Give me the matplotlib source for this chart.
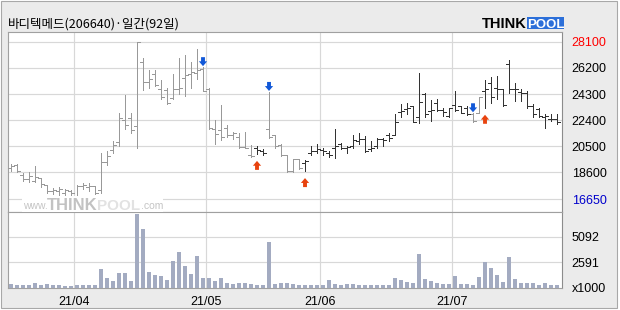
import matplotlib
matplotlib.use('Agg')
import matplotlib.pyplot as plt
import numpy as np
import pandas as pd
from matplotlib.patches import Rectangle
from matplotlib.transforms import offset_copy

# ---------------- data ----------------
title = '바디텍메드(206640)·일간(92일)'
holidays = ['2021-05-05', '2021-05-19']
dates = pd.bdate_range('2021-03-17', '2021-07-26')
dates = dates[~dates.isin(pd.to_datetime(holidays))]

opens = [18900, 19150, 18400, 18150, 18000, 18200, 17700, 17250, 17250, 17100,
         17250, 16800, 17600, 17550, 17600, 17350, 19350, 20250, 20800, 22400,
         22550, 21950, 26600, 25150, 25750, 24650, 24600, 24000, 24650, 25450,
         25750, 25850, 26100, 24650, 21750, 21700, 21850, 21300, 21200, 20450,
         19850, 20350, 20150, 21750, 21300, 20600, 19850, 18700, 19550, 19300,
         20050, 20150, 20250, 20050, 20400, 20650, 20350, 20500, 20900, 21000,
         20300, 20500, 21000, 21300, 21350, 23000, 23200, 23450, 22600, 24300,
         23050, 23650, 23150, 22700, 23500, 23400, 23300, 22850, 22900, 24500,
         25100, 24750, 24650, 26450, 24700, 24450, 24350, 23400, 23200, 22650,
         22500, 22450]
highs = [19200, 19200, 18550, 18650, 19050, 18200, 17700, 17450, 17550, 17400,
         17350, 17700, 17850, 17850, 17600, 20000, 20150, 20900, 22900, 24250,
         22900, 28100, 26900, 26050, 26050, 25300, 24750, 25750, 26900, 27150,
         26600, 27550, 26250, 24750, 22400, 23500, 22050, 21550, 21450, 21550,
         20600, 20500, 20300, 24450, 21300, 20650, 19850, 19550, 19600, 19500,
         20500, 20650, 20400, 20150, 21750, 20750, 20500, 21350, 21450, 21250,
         20900, 21100, 21100, 21500, 22850, 23550, 23650, 23450, 25800, 24400,
         23850, 23950, 23300, 23300, 24500, 23450, 23400, 22900, 24050, 25350,
         25500, 25600, 24700, 26800, 25100, 24650, 24500, 23550, 23250, 22850,
         22850, 22850]
lows = [18700, 18650, 18000, 17900, 17900, 17550, 17100, 17050, 16800, 16950,
        16750, 16650, 17400, 17250, 17050, 17100, 19150, 20000, 20500, 21750,
        21450, 20350, 24600, 24750, 24900, 23950, 23550, 23950, 24300, 24150,
        24750, 25400, 24500, 21750, 20700, 20950, 21200, 21000, 20350, 20400,
        19750, 19950, 19850, 21100, 20400, 19800, 18650, 18600, 18850, 18700,
        19850, 20000, 19900, 19750, 19650, 20300, 20050, 20350, 20650, 20100,
        20150, 20400, 20500, 20900, 21300, 22600, 22850, 22250, 22200, 22600,
        22350, 23050, 22700, 22650, 23050, 22900, 22750, 22250, 22900, 23300,
        23650, 23950, 23450, 24400, 23800, 23800, 23300, 22600, 22600, 21850,
        22350, 22150]
closes = [19050, 18700, 18150, 18350, 18250, 17750, 17250, 17350, 17400, 17350,
          17100, 17600, 17700, 17600, 17100, 19350, 19800, 20600, 22550, 22050,
          21650, 28100, 25150, 25400, 24950, 24100, 23650, 24650, 24750, 25700,
          25900, 26050, 24550, 21850, 21400, 21200, 21300, 21450, 20450, 20400,
          19800, 20250, 20000, 21150, 20500, 19850, 18700, 19550, 18900, 19450,
          20150, 20300, 20150, 19900, 20550, 20350, 20450, 20950, 21050, 20150,
          20400, 21050, 20950, 21100, 22250, 23100, 23300, 22250, 23700, 22850,
          23150, 23150, 23000, 23250, 23150, 22950, 22850, 22350, 24050, 24650,
          24050, 24650, 23500, 24700, 24650, 24400, 23400, 22850, 22700, 22700,
          22450, 22250]
volume_k = [367, 333, 267, 267, 467, 300, 367, 300, 267, 167,
            167, 267, 267, 267, 267, 1868, 967, 667, 1467, 1467,
            667, 7370, 5870, 1567, 1267, 1167, 767, 2668, 3568, 2168,
            1367, 3168, 1034, 967, 667, 967, 467, 367, 467, 467,
            367, 267, 267, 4569, 367, 467, 467, 367, 267, 267,
            300, 300, 300, 800, 400, 300, 400, 400, 300, 300,
            300, 300, 300, 300, 1000, 800, 630, 500, 3400, 900,
            700, 500, 400, 400, 1200, 400, 400, 300, 1100, 2600,
            2000, 1300, 600, 3100, 900, 500, 500, 500, 300, 500,
            300, 300]
buy_signals = [41, 49, 79]
sell_signals = [32, 43, 77]
price_ticks = [28100, 26200, 24300, 22400, 20500, 18600, 16650]
volume_ticks = [5092, 2591]
volume_unit = 'x1000'

# ---------------- layout helpers ----------------
W, H = 620, 310
def fx(px):
    return px / W
def fy(py):
    return 1 - py / H

BG = '#ebebeb'
GRID = '#d8d8d8'
GRAY_BAR = '#999999'
DARK_BAR = '#333333'
VOL = '#a3abc1'
SPINE = '#a0a0a0'
PX = 0.72  # one pixel in points

fig = plt.figure(figsize=(W / 100, H / 100), dpi=100, facecolor='white')
fig.add_artist(Rectangle((fx(1), fy(308)), 616 / W, 307 / H, transform=fig.transFigure,
                         facecolor=BG, edgecolor='#a8a8a8', lw=0.8, zorder=0))

n = len(opens)
x = np.arange(n)
o = np.array(opens); h = np.array(highs); l = np.array(lows); c = np.array(closes)

# bar colours follow signal state
state = 'sell'
cols = []
for i in range(n):
    if i in buy_signals:
        state = 'buy'
    elif i in sell_signals:
        state = 'sell'
    cols.append(DARK_BAR if state == 'buy' else GRAY_BAR)

month_pos = []
month_lab = []
for i in range(1, n):
    if dates[i].month != dates[i - 1].month:
        month_pos.append(i - 0.5)
        month_lab.append(dates[i].strftime('%y/%m'))

axp = fig.add_axes([fx(8), fy(212), 554 / W, 180 / H], facecolor='white')
axv = fig.add_axes([fx(8), fy(288), 554 / W, 76 / H], facecolor='white', sharex=axp)

axp.set_xlim(-0.5, n - 0.17)
axp.set_ylim(15728, 28805)
axv.set_ylim(0, 7580)

for ax in (axp, axv):
    ax.set_axisbelow(True)
    for v in month_pos:
        ax.axvline(v, color=GRID, lw=PX * 1.2, zorder=0)
    for s in ax.spines.values():
        s.set_color(SPINE)
        s.set_linewidth(0.8)
    ax.spines['right'].set_color('#8c8c8c')
    ax.tick_params(length=0)

for t in price_ticks:
    axp.axhline(t, color=GRID, lw=PX * 1.2, zorder=0)
for t in volume_ticks:
    axv.axhline(t, color=GRID, lw=PX * 1.2, zorder=0)

# watermark
fig.add_artist(Rectangle((fx(22), fy(211.5)), 141 / W, 15.5 / H, transform=fig.transFigure,
                         facecolor='white', edgecolor='none', zorder=1))
fig.text(fx(23), fy(209), 'www.', fontsize=7.5, color='#c4c4c4', family='Liberation Sans', zorder=2)
fig.text(fx(47), fy(210.5), 'THINK', fontsize=12, fontweight='bold', color='#c2c2c2',
         family='Liberation Sans', zorder=2)
fig.text(fx(97), fy(210.5), 'POOL', fontsize=11, fontweight='bold', color='#e2e2e2',
         family='Liberation Sans', zorder=2)
fig.text(fx(141), fy(209), '.com', fontsize=7.5, color='#c4c4c4', family='Liberation Sans', zorder=2)

# OHLC bars
axp.vlines(x, l, h, colors=cols, lw=PX, antialiased=False, zorder=3)
axp.hlines(o, x - 0.5, x, colors=cols, lw=PX, antialiased=False, zorder=3)
axp.hlines(c, x, x + 0.5, colors=cols, lw=PX, antialiased=False, zorder=3)

# signal arrows
astyle = 'simple,head_length=0.5,head_width=0.85,tail_width=0.4'
for i in sell_signals:
    tip = offset_copy(axp.transData, fig=fig, x=0, y=1, units='dots')
    tail = offset_copy(axp.transData, fig=fig, x=0, y=10, units='dots')
    axp.annotate('', xy=(i, h[i]), xycoords=tip, xytext=(i, h[i]), textcoords=tail,
                 arrowprops=dict(arrowstyle=astyle, mutation_scale=7, color='#1158d8',
                                 shrinkA=0, shrinkB=0, lw=0), zorder=4)
for i in buy_signals:
    tip = offset_copy(axp.transData, fig=fig, x=0, y=-7, units='dots')
    tail = offset_copy(axp.transData, fig=fig, x=0, y=-16, units='dots')
    axp.annotate('', xy=(i, l[i]), xycoords=tip, xytext=(i, l[i]), textcoords=tail,
                 arrowprops=dict(arrowstyle=astyle, mutation_scale=7, color='#e8430e',
                                 shrinkA=0, shrinkB=0, lw=0), zorder=4)

# volume bars
axv.bar(x, volume_k, width=0.8, color=VOL, zorder=3)

# axis labels
lab_font = ['Liberation Sans Narrow', 'Liberation Sans']
axp.yaxis.tick_right()
axp.set_yticks(price_ticks)
axp.set_yticklabels([str(t) for t in price_ticks], fontsize=9, family=lab_font)
for k, tl in enumerate(axp.get_yticklabels()):
    tl.set_color('#ff0000' if k == 0 else ('#0000cc' if k == len(price_ticks) - 1 else 'black'))
axp.tick_params(axis='y', pad=7)
axp.tick_params(axis='x', labelbottom=False)

axv.yaxis.tick_right()
axv.set_yticks(volume_ticks + [0])
axv.set_yticklabels([str(t) for t in volume_ticks] + [volume_unit], fontsize=9, family=lab_font)
axv.tick_params(axis='y', pad=7)
axv.set_xticks(month_pos)
axv.set_xticklabels(month_lab, fontsize=9, family='Liberation Sans')
axv.tick_params(axis='x', pad=6)

# title
fig.text(fx(8), fy(28), title, fontsize=9, va='baseline',
         family=['Noto Sans CJK KR', 'DejaVu Sans'])

# logo
fig.text(fx(482), fy(28.5), 'THINK', fontsize=10.5, fontweight='bold', va='baseline',
         family='Liberation Sans', color='black')
fig.add_artist(Rectangle((fx(527), fy(29)), 37 / W, 12.5 / H, transform=fig.transFigure,
                         facecolor='#2c6fd9', edgecolor='none'))
fig.text(fx(545.5), fy(27.5), 'POOL', fontsize=9.5, fontweight='bold', va='baseline', ha='center',
         family='Liberation Sans', color='white')

fig.savefig('out.png', dpi=100, facecolor=fig.get_facecolor())
